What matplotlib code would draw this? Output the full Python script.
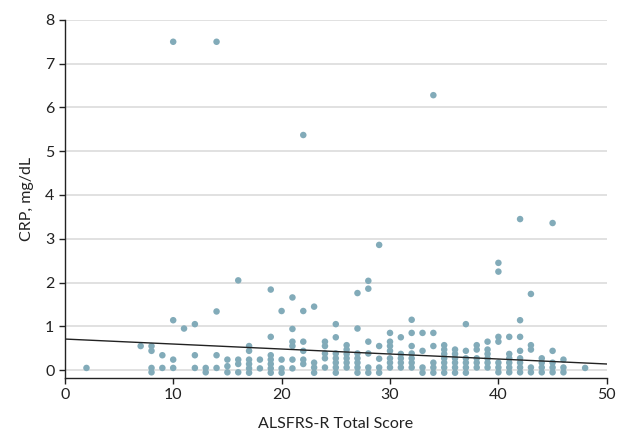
import matplotlib.pyplot as plt

# ALSFRS-R total score and CRP (mg/dL)
score = ([2] + [7] + [8] * 4 + [9] * 2 + [10] * 4 + [11] + [12] * 3 + [13] * 2
         + [14] * 4 + [15] * 3 + [16] * 4 + [17] * 6 + [18] * 2 + [19] * 7
         + [20] * 4 + [21] * 6 + [22] * 6 + [23] * 4 + [24] * 5 + [25] * 7
         + [26] * 6 + [27] * 7 + [28] * 6 + [29] * 5 + [30] * 7 + [31] * 5
         + [32] * 7 + [33] * 4 + [34] * 6 + [35] * 7 + [36] * 6 + [37] * 6
         + [38] * 5 + [39] * 6 + [40] * 7 + [41] * 6 + [42] * 8 + [43] * 5
         + [44] * 4 + [45] * 5 + [46] * 3 + [48])

crp = [
    0.05,
    0.55,
    0.55, 0.44, 0.05, -0.05,
    0.34, 0.05,
    7.5, 1.14, 0.24, 0.05,
    0.95,
    1.05, 0.34, 0.05,
    0.05, -0.05,
    7.5, 1.34, 0.34, 0.05,
    0.24, 0.09, -0.05,
    2.05, 0.24, 0.14, -0.05,
    0.55, 0.44, 0.24, 0.14, 0.04, -0.06,
    0.24, 0.04,
    1.84, 0.76, 0.34, 0.24, 0.14, 0.04, -0.06,
    1.35, 0.24, 0.04, -0.06,
    1.66, 0.94, 0.65, 0.55, 0.24, 0.04,
    5.37, 1.35, 0.65, 0.44, 0.24, 0.14,
    1.45, 0.17, 0.06, -0.06,
    0.65, 0.55, 0.38, 0.27, 0.06,
    1.05, 0.75, 0.38, 0.27, 0.17, 0.06, -0.06,
    0.57, 0.47, 0.37, 0.27, 0.17, 0.06,
    1.76, 0.95, 0.38, 0.27, 0.17, 0.06, -0.06,
    2.04, 1.86, 0.65, 0.38, 0.06, -0.06,
    2.86, 0.55, 0.26, 0.06, -0.06,
    0.85, 0.65, 0.55, 0.44, 0.27, 0.17, 0.06,
    0.75, 0.37, 0.27, 0.17, 0.06,
    1.15, 0.85, 0.55, 0.38, 0.27, 0.17, 0.06,
    0.85, 0.44, 0.06, -0.06,
    6.28, 0.85, 0.55, 0.17, 0.06, -0.06,
    0.57, 0.47, 0.37, 0.27, 0.17, 0.06, -0.06,
    0.47, 0.37, 0.27, 0.17, 0.06, -0.06,
    1.05, 0.44, 0.27, 0.17, 0.06, -0.06,
    0.57, 0.47, 0.27, 0.17, 0.06,
    0.65, 0.47, 0.37, 0.27, 0.17, 0.06,
    2.45, 2.25, 0.76, 0.65, 0.17, 0.06, -0.05,
    0.76, 0.37, 0.27, 0.17, 0.06, -0.05,
    3.45, 1.14, 0.76, 0.44, 0.27, 0.17, 0.06, -0.05,
    1.74, 0.57, 0.47, 0.06, -0.05,
    0.27, 0.17, 0.06, -0.05,
    3.36, 0.44, 0.17, 0.06, -0.05,
    0.24, 0.06, -0.05,
    0.05,
]

# fitted line endpoints
fit_x = [0, 50]
fit_y = [0.71, 0.14]

x_ticks = [0, 10, 20, 30, 40, 50]
y_ticks = [0, 1, 2, 3, 4, 5, 6, 7, 8]

plt.rcParams['font.family'] = ['Lato', 'DejaVu Sans']

fig = plt.figure(figsize=(6.23, 4.32), dpi=100)
ax = fig.add_axes([0.104, 0.126, 0.870, 0.828])

for yv in y_ticks:
    ax.axhline(yv, color='#dcdcdc', lw=1.2, zorder=0)

ax.scatter(score, crp, s=22, color='#82abb9', edgecolors='none', zorder=2)
ax.plot(fit_x, fit_y, color='#222222', lw=1.0, zorder=3)

ax.set_xlim(0, 50)
ax.set_ylim(-0.17, 8)
ax.set_xticks(x_ticks)
ax.set_yticks(y_ticks)
ax.tick_params(direction='out', length=4, width=1, labelsize=11.5,
               colors='#222222', labelcolor='#222222')

for side in ['top', 'right']:
    ax.spines[side].set_visible(False)
for side in ['left', 'bottom']:
    ax.spines[side].set_color('#222222')
    ax.spines[side].set_linewidth(1.0)

ax.set_xlabel('ALSFRS-R Total Score', fontsize=11.5, color='#222222', labelpad=11)
ax.set_ylabel('CRP, mg/dL', fontsize=11.5, color='#222222', labelpad=8)

fig.savefig('out.png', dpi=100)
